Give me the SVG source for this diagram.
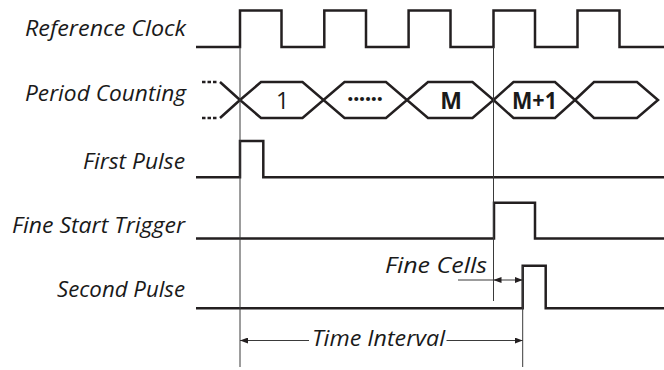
<svg xmlns="http://www.w3.org/2000/svg" width="664" height="370" viewBox="0 0 664 370">
  <style>
    .sig { fill: none; stroke: #231f20; stroke-width: 2.5; stroke-linejoin: miter; stroke-linecap: butt; }
    .thin { fill: none; stroke: #3a3a3a; stroke-width: 1; }
    .lbl { font-family: "Open Sans", "Liberation Sans", sans-serif; font-style: italic; font-size: 22.5px; fill: #1a1a1a; }
    .hx { font-family: "Open Sans", "Liberation Sans", sans-serif; font-size: 23px; fill: #1a1a1a; text-anchor: middle; }
    .b { font-weight: bold; }
  </style>
  <defs>
    <marker id="ah" viewBox="0 0 8 6" refX="8" refY="3" markerWidth="8" markerHeight="6" markerUnits="userSpaceOnUse" orient="auto-start-reverse">
      <path d="M0,0 L8,3 L0,6 z" fill="#231f20"/>
    </marker>
  </defs>
  <rect width="664" height="370" fill="#ffffff"/>

  <g id="labels">
    <text class="lbl" x="25" y="36" textLength="161" lengthAdjust="spacingAndGlyphs">Reference Clock</text>
    <text class="lbl" x="25" y="101" textLength="161" lengthAdjust="spacingAndGlyphs">Period Counting</text>
    <text class="lbl" x="83" y="169" textLength="102" lengthAdjust="spacingAndGlyphs">First Pulse</text>
    <text class="lbl" x="12" y="233" textLength="173" lengthAdjust="spacingAndGlyphs">Fine Start Trigger</text>
    <text class="lbl" x="57" y="297" textLength="128" lengthAdjust="spacingAndGlyphs">Second Pulse</text>
  </g>

  <g id="reference-clock">
    <path class="sig" d="M196,47 H240 V10.5 H281.5 V47 H324.3 V10.5 H366 V47 H408.6 V10.5 H450.5 V47 H493.5 V10.5 H535 V47 H577.5 V10.5 H619.5 V47 H664"/>
  </g>

  <g id="period-counting">
    <path class="sig" d="M202,82 H217 M202,118 H217" stroke-dasharray="3.5,2"/>
    <path class="sig" d="M220,82 L240,100 M220,118 L240,100"/>
    <polygon class="sig" points="240,100 261,82 302.5,82 323.5,100 302.5,118 261,118"/>
    <polygon class="sig" points="323.5,100 344.5,82 386,82 407,100 386,118 344.5,118"/>
    <polygon class="sig" points="407,100 428,82 472.5,82 493.5,100 472.5,118 428,118"/>
    <polygon class="sig" points="493.5,100 513.5,82 555,82 575,100 555,118 513.5,118"/>
    <polygon class="sig" points="575,100 594,82 637,82 658,100 637,118 594,118"/>
    <text class="hx" x="282.5" y="108.5">1</text>
    <text class="hx b" x="365" y="101" textLength="36" lengthAdjust="spacing">......</text>
    <text class="hx b" x="451" y="108.5">M</text>
    <text class="hx b" x="534.5" y="108.5" textLength="45" lengthAdjust="spacingAndGlyphs">M+1</text>
  </g>

  <g id="first-pulse">
    <path class="sig" d="M196,177.3 H240 V141 H263.3 V177.3 H664"/>
  </g>

  <g id="fine-start-trigger">
    <path class="sig" d="M196,238.5 H494 V202.7 H535 V238.5 H664"/>
  </g>

  <g id="second-pulse">
    <path class="sig" d="M196,308.3 H522.7 V265.7 H545.7 V308.3 H664"/>
  </g>

  <g id="connectors">
    <line class="thin" x1="240" y1="47" x2="240" y2="367"/>
    <line class="thin" x1="493.5" y1="47" x2="493.5" y2="301"/>
    <line class="thin" x1="522.7" y1="266" x2="522.7" y2="367"/>
    <line class="thin" x1="458" y1="280" x2="493.5" y2="280"/>
    <line class="thin" x1="493.5" y1="280" x2="522.7" y2="280" marker-start="url(#ah)" marker-end="url(#ah)"/>
    <line class="thin" x1="309" y1="340.5" x2="240" y2="340.5" marker-end="url(#ah)"/>
    <line class="thin" x1="446.5" y1="340.5" x2="522.7" y2="340.5" marker-end="url(#ah)"/>
  </g>

  <g id="annotations">
    <text class="lbl" x="385" y="273" textLength="102" lengthAdjust="spacingAndGlyphs">Fine Cells</text>
    <text class="lbl" x="312" y="346" textLength="133" lengthAdjust="spacingAndGlyphs">Time Interval</text>
  </g>
</svg>
